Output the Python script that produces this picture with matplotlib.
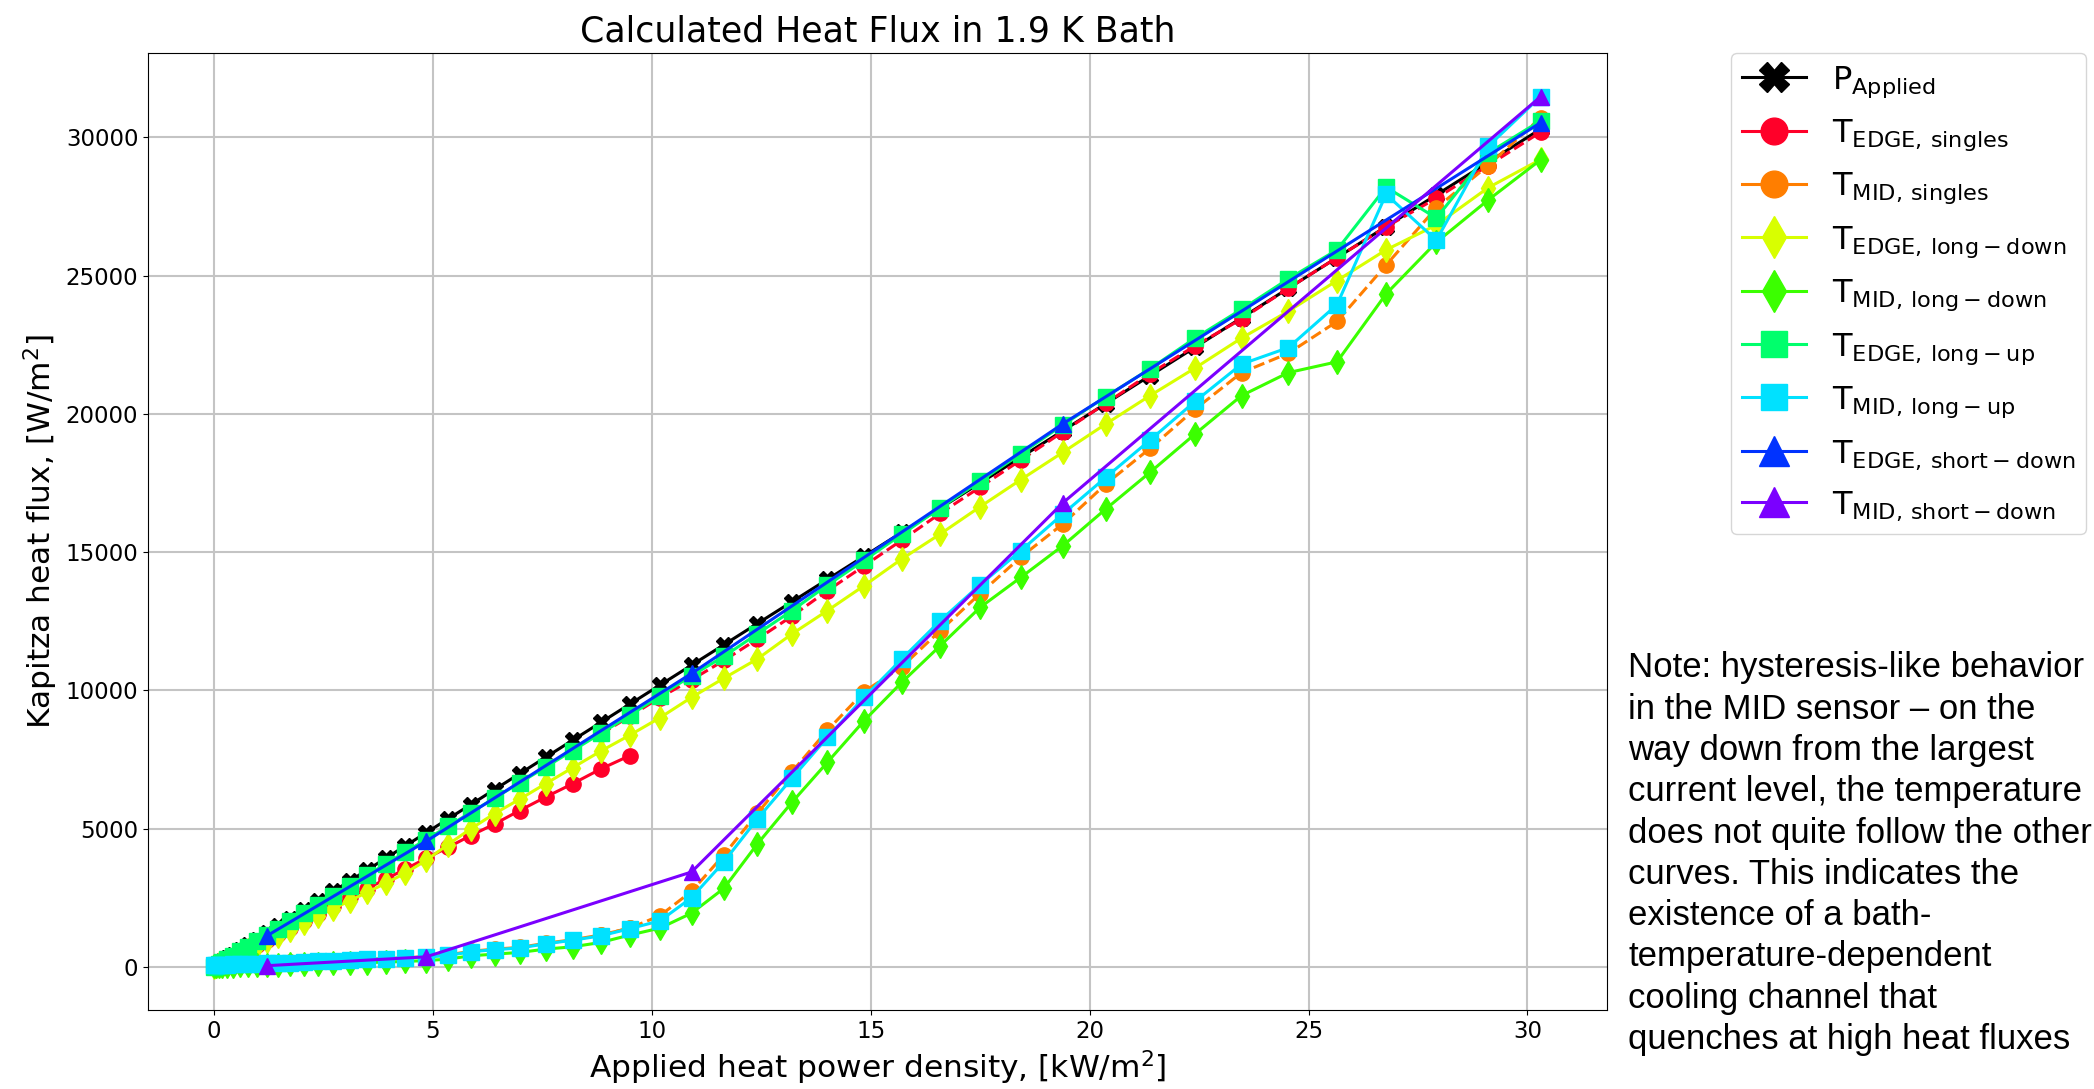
import matplotlib
matplotlib.use("Agg")
import matplotlib.pyplot as plt

# applied heat power density, kW/m^2 (one entry per current step)
x_all = [0.012, 0.048, 0.109, 0.194, 0.303, 0.436, 0.594, 0.776, 0.982, 1.212,
         1.467, 1.745, 2.048, 2.375, 2.727, 3.103, 3.503, 3.927, 4.375, 4.848,
         5.345, 5.866, 6.411, 6.981, 7.575, 8.193, 8.836, 9.502, 10.19, 10.91,
         11.65, 12.41, 13.20, 14.01, 14.85, 15.71, 16.59, 17.50, 18.43, 19.39,
         20.37, 21.38, 22.41, 23.47, 24.54, 25.65, 26.77, 27.92, 29.10, 30.30]
x_low = x_all[:28]
x_high = x_all[26:]
x_short = [1.212, 4.848, 10.91, 19.39, 30.30]

# Kapitza heat flux, W/m^2
p_applied = [12, 48, 109, 194, 303, 436, 594, 776, 982, 1212,
             1467, 1745, 2048, 2375, 2727, 3103, 3503, 3927, 4375, 4848,
             5345, 5866, 6411, 6981, 7575, 8193, 8836, 9502, 10190, 10910,
             11650, 12410, 13200, 14010, 14850, 15710, 16590, 17500, 18430, 19390,
             20370, 21380, 22410, 23470, 24540, 25650, 26770, 27920, 29100, 30300]

edge_singles_low = [10, 39, 88, 157, 245, 352, 480, 627, 793, 980,
                    1185, 1410, 1655, 1920, 2205, 2510, 2830, 3175, 3535, 3920,
                    4320, 4745, 5165, 5650, 6137, 6620, 7155, 7640]
edge_singles_high = [8420, 9060, 9740, 10380, 11080, 11850, 12680, 13600, 14500, 15430,
                     16400, 17350, 18330, 19350, 20380, 21450, 22460, 23430, 24540, 25650,
                     26760, 27800, 28980, 30190]

mid_singles_low = [70, 75, 80, 85, 90, 95, 105, 115, 125, 135,
                   150, 165, 185, 205, 225, 250, 275, 300, 330, 365,
                   430, 560, 640, 700, 850, 980, 1150, 1400]
mid_singles_high = [1150, 1400, 1850, 2730, 4050, 5550, 7050, 8550, 9950, 10850,
                    12160, 13500, 14820, 16020, 17460, 18750, 20170, 21490, 22190, 23340,
                    25380, 27450, 28980, 30710]

edge_long_down = [9, 37, 84, 149, 233, 336, 457, 598, 756, 933,
                  1130, 1344, 1577, 1829, 2100, 2389, 2697, 3024, 3390, 3850,
                  4420, 4990, 5540, 6060, 6620, 7200, 7800, 8380, 9010, 9745,
                  10440, 11130, 12036, 12880, 13784, 14750, 15654, 16640, 17620, 18608,
                  19634, 20658, 21658, 22740, 23712, 24819, 25930, 26831, 28177, 29200]

mid_long_down = [20, 25, 30, 35, 40, 45, 50, 55, 60, 65,
                 75, 85, 95, 105, 120, 135, 150, 170, 195, 225,
                 277, 398, 458, 519, 639, 724, 880, 1150, 1400, 1940,
                 2840, 4438, 5945, 7393, 8900, 10287, 11614, 13000, 14085, 15231,
                 16559, 17884, 19273, 20658, 21491, 21881, 24334, 26208, 27732, 29188]

edge_long_up = [10, 40, 95, 175, 280, 405, 555, 725, 925, 1140,
                1380, 1640, 1930, 2240, 2570, 2930, 3310, 3720, 4150, 4600,
                5080, 5580, 6100, 6650, 7220, 7820, 8440, 9100, 9800, 10530,
                11230, 12040, 12880, 13800, 14700, 15640, 16600, 17560, 18560, 19600,
                20620, 21630, 22740, 23780, 24880, 25930, 28200, 27080, 29430, 30600]

mid_long_up = [60, 65, 70, 75, 80, 85, 95, 105, 115, 125,
               140, 155, 175, 195, 215, 240, 265, 290, 320, 350,
               410, 540, 620, 680, 830, 960, 1120, 1380, 1664, 2500,
               3800, 5343, 6814, 8297, 9745, 11130, 12518, 13820, 15050, 16378,
               17703, 19050, 20452, 21798, 22395, 23947, 27941, 26277, 29674, 31476]

edge_short_down = [1120, 4540, 10610, 19640, 30530]
mid_short_down = [40, 360, 3430, 16780, 31470]

labels = [r'$\mathrm{P_{Applied}}$',
          r'$\mathrm{T_{EDGE,\,singles}}$',
          r'$\mathrm{T_{MID,\,singles}}$',
          r'$\mathrm{T_{EDGE,\,long-down}}$',
          r'$\mathrm{T_{MID,\,long-down}}$',
          r'$\mathrm{T_{EDGE,\,long-up}}$',
          r'$\mathrm{T_{MID,\,long-up}}$',
          r'$\mathrm{T_{EDGE,\,short-down}}$',
          r'$\mathrm{T_{MID,\,short-down}}$']

cmap = plt.cm.gist_rainbow
cols = [cmap(t) for t in [0.0, 0.1225, 0.246, 0.357, 0.478, 0.608, 0.733, 0.858]]

fig = plt.figure(figsize=(20.94, 10.89), dpi=100)
ax = fig.add_axes([0.0707, 0.0725, 0.6967, 0.8788])

lw = 2.2
ax.plot(x_all, p_applied, color='black', marker='X', ms=12, lw=lw, label=labels[0])
ax.plot(x_low, edge_singles_low, color=cols[0], marker='o', ms=11, lw=lw, label=labels[1])
ax.plot(x_high, edge_singles_high, color=cols[0], marker='o', ms=11, lw=lw, ls='--')
ax.plot(x_low, mid_singles_low, color=cols[1], marker='o', ms=11, lw=lw, label=labels[2])
ax.plot(x_high, mid_singles_high, color=cols[1], marker='o', ms=11, lw=lw, ls='--')
ax.plot(x_all, edge_long_down, color=cols[2], marker='d', ms=12, lw=lw, label=labels[3])
ax.plot(x_all, mid_long_down, color=cols[3], marker='d', ms=12, lw=lw, label=labels[4])
ax.plot(x_all, edge_long_up, color=cols[4], marker='s', ms=11, lw=lw, label=labels[5])
ax.plot(x_all, mid_long_up, color=cols[5], marker='s', ms=11, lw=lw, label=labels[6])
ax.plot(x_short, edge_short_down, color=cols[6], marker='^', ms=12, lw=lw, label=labels[7])
ax.plot(x_short, mid_short_down, color=cols[7], marker='^', ms=12, lw=lw, label=labels[8])

ax.grid(True, color='#c4c4c4', lw=1.5)
ax.set_axisbelow(True)
ax.tick_params(labelsize=16.5)
ax.set_title('Calculated Heat Flux in 1.9 K Bath', fontsize=25, pad=8)
ax.set_xlabel(r'Applied heat power density, [kW/m$^2$]', fontsize=22.5)
ax.set_ylabel(r'Kapitza heat flux, [W/m$^2$]', fontsize=22.5)

fig.legend(loc='upper left', bbox_to_anchor=(0.8266, 0.9513), bbox_transform=fig.transFigure,
           borderaxespad=0, fontsize=23, markerscale=1.75, labelspacing=0.56, borderpad=0.35)

note = ("Note: hysteresis-like behavior\n"
        "in the MID sensor \u2013 on the\n"
        "way down from the largest\n"
        "current level, the temperature\n"
        "does not quite follow the other\n"
        "curves. This indicates the\n"
        "existence of a bath-\n"
        "temperature-dependent\n"
        "cooling channel that\n"
        "quenches at high heat fluxes")
fig.text(0.7775, 0.402, note, fontsize=25, family='Liberation Sans', va='top', ha='left',
         linespacing=1.32)

fig.savefig('out.png', dpi=100)
